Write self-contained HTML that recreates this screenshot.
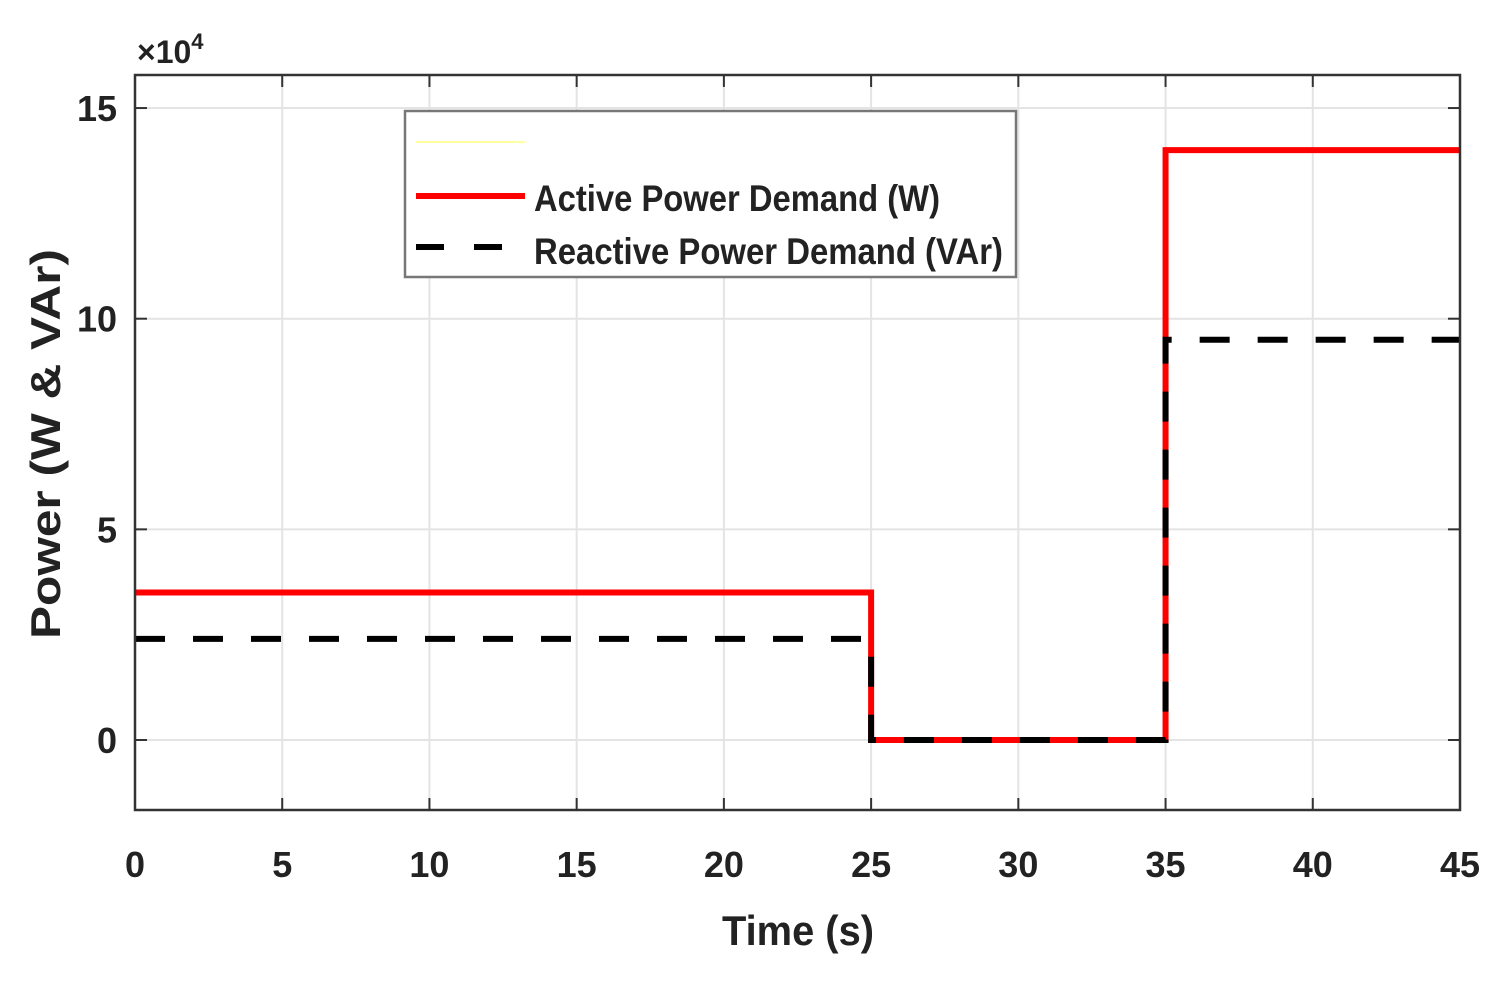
<!DOCTYPE html>
<html><head><meta charset="utf-8"><style>
body{margin:0;background:#fff;}
svg text{font-family:"Liberation Sans Narrow","Liberation Sans",sans-serif;font-weight:bold;fill:#222;}
</style></head><body>
<svg id="chart" width="1506" height="977" viewBox="0 0 1506 977">
<g id="grid"></g>
<g id="lines"></g>
<g id="axes"></g>
</svg>
<script>
const xTicks=[0,5,10,15,20,25,30,35,40,45];
const yTicks=[0,5,10,15];
const activeT=[0,25,25,35,35,45];
const activeP=[3.5,3.5,0,0,14,14];
const reactiveT=[0,25,25,35,35,45];
const reactiveP=[2.4,2.4,0,0,9.5,9.5];
const L=135,R=1460,T=75,B=810;
const X=v=>L+(v-0)/45*(R-L);
const Y=v=>740-v*42.13;
const NS='http://www.w3.org/2000/svg';
function mk(p,tag,a){const e=document.createElementNS(NS,tag);for(const k in a)e.setAttribute(k,a[k]);p.appendChild(e);return e;}
const g=document.getElementById('grid'),ln=document.getElementById('lines'),ax=document.getElementById('axes');
mk(g,'rect',{x:L,y:T,width:R-L,height:B-T,fill:'#fff'});
xTicks.forEach(t=>{
 const l=mk(g,'line',{x1:X(t),x2:X(t),y1:T,y2:B,stroke:'#e4e4e4','stroke-width':2});
 
 
 mk(ax,'line',{x1:X(t),x2:X(t),y1:B,y2:B-12,stroke:'#333','stroke-width':2});
 mk(ax,'line',{x1:X(t),x2:X(t),y1:T,y2:T+12,stroke:'#333','stroke-width':2});
 const tx=mk(ax,'text',{x:X(t),y:877,'font-size':36,'text-anchor':'middle'});tx.textContent=t;
 
 
});
yTicks.forEach(t=>{
 const l=mk(g,'line',{x1:L,x2:R,y1:Y(t),y2:Y(t),stroke:'#e4e4e4','stroke-width':2});
 
 
 mk(ax,'line',{x1:L,x2:L+12,y1:Y(t),y2:Y(t),stroke:'#333','stroke-width':2});
 mk(ax,'line',{x1:R,x2:R-12,y1:Y(t),y2:Y(t),stroke:'#333','stroke-width':2});
 const tx=mk(ax,'text',{x:117,y:Y(t)+13,'font-size':36,'text-anchor':'end'});tx.textContent=t;
 
 
});
const fr=mk(ax,'rect',{x:L,y:T,width:R-L,height:B-T,fill:'none',stroke:'#333','stroke-width':2.5});


const pts=(ts,ps)=>ts.map((t,i)=>X(t)+','+Y(ps[i])).join(' ');
const a=mk(ln,'polyline',{points:pts(activeT,activeP),fill:'none',stroke:'#ff0000','stroke-width':6});


const r=mk(ln,'polyline',{points:pts(reactiveT,reactiveP),fill:'none',stroke:'#000','stroke-width':6,'stroke-dasharray':'30,28'});


let t=mk(ax,'text',{x:798,y:945,'font-size':42,'text-anchor':'middle',textLength:152,lengthAdjust:'spacingAndGlyphs'});t.textContent='Time (s)';


t=mk(ax,'text',{x:0,y:0,'font-size':42,'text-anchor':'middle',textLength:390,lengthAdjust:'spacingAndGlyphs',transform:'translate(60,444) rotate(-90)'});t.textContent='Power (W & VAr)';


t=mk(ax,'text',{x:137,y:63,'font-size':32,'font-weight':'normal'});t.innerHTML='×10<tspan dy="-14" font-size="22">4</tspan>';


const lg=mk(ax,'g',{});


mk(lg,'rect',{x:405,y:111,width:611,height:166,fill:'#fff',stroke:'#777','stroke-width':2.5});
mk(lg,'line',{x1:416,x2:525,y1:142,y2:142,stroke:'#ffffa0','stroke-width':2});
mk(lg,'line',{x1:416,x2:525,y1:196,y2:196,stroke:'#ff0000','stroke-width':6});
mk(lg,'line',{x1:416,x2:525,y1:247,y2:247,stroke:'#000','stroke-width':6,'stroke-dasharray':'28,30'});
t=mk(lg,'text',{x:534,y:211,'font-size':37,textLength:406,lengthAdjust:'spacingAndGlyphs'});t.textContent='Active Power Demand (W)';


t=mk(lg,'text',{x:534,y:264,'font-size':37,textLength:469,lengthAdjust:'spacingAndGlyphs'});t.textContent='Reactive Power Demand (VAr)';


</script>
</body></html>
